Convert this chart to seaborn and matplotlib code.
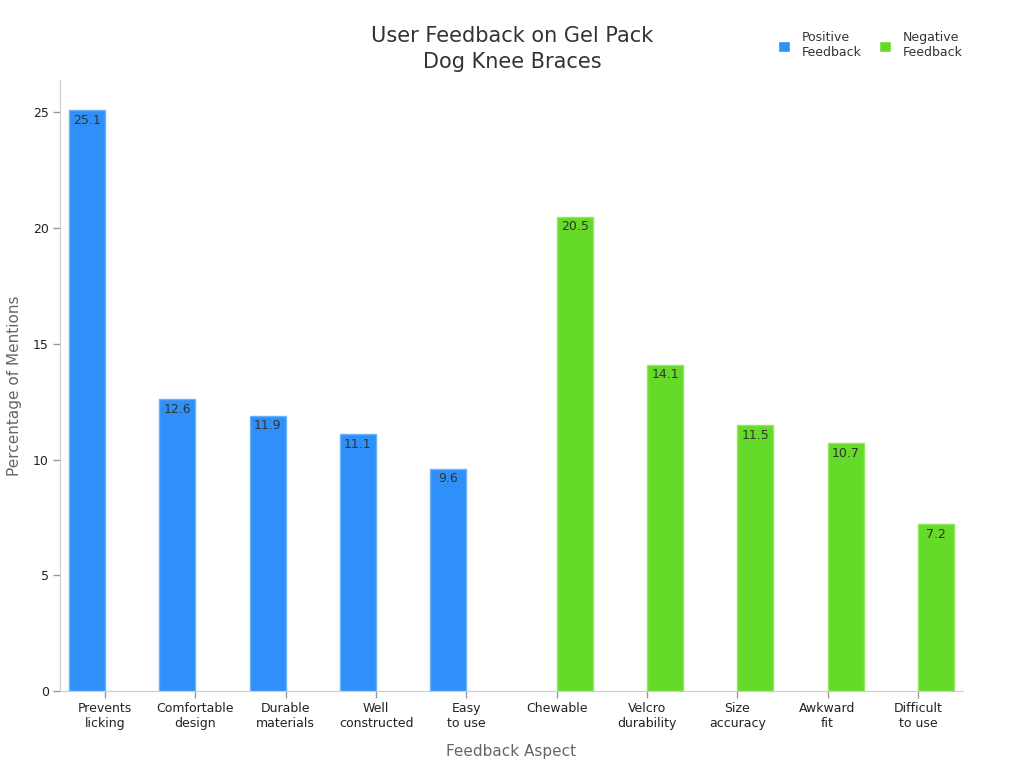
import matplotlib
matplotlib.use("Agg")
import matplotlib.pyplot as plt
import seaborn as sns
import pandas as pd

categories = ["Prevents\nlicking", "Comfortable\ndesign", "Durable\nmaterials", "Well\nconstructed", "Easy\nto use",
              "Chewable", "Velcro\ndurability", "Size\naccuracy", "Awkward\nfit", "Difficult\nto use"]
values = [25.1, 12.6, 11.9, 11.1, 9.6, 20.5, 14.1, 11.5, 10.7, 7.2]
groups = ["Positive\nFeedback"] * 5 + ["Negative\nFeedback"] * 5
palette = {"Positive\nFeedback": "#2E90F8", "Negative\nFeedback": "#66DA28"}
edges = {"Positive\nFeedback": "#6DB1F9", "Negative\nFeedback": "#93E565"}

df = pd.DataFrame({"Aspect": categories, "Value": values, "Group": groups})

sns.set_style("white")
plt.rcParams['font.family'] = ['DejaVu Sans']

fig = plt.figure(figsize=(10.24, 7.68), dpi=100)
ax = fig.add_axes([0.0586, 0.1003, 0.8818, 0.7955])

sns.barplot(data=df, x="Aspect", y="Value", hue="Group", palette=palette,
            order=categories, hue_order=list(palette.keys()), width=0.8,
            dodge=True, ax=ax, saturation=1, legend=True)

for cont, g in zip(ax.containers, palette.keys()):
    for p in cont.patches:
        p.set_edgecolor(edges[g])
        p.set_linewidth(1)
    labels = [f"{v:.1f}" if v == v and v > 0 else "" for v in cont.datavalues]
    ax.bar_label(cont, labels=labels, padding=-12, fontsize=9, color="#333333")

ax.set_xlim(-0.5, 9.5)
ax.set_ylim(0, 26.4)
ax.set_yticks([0, 5, 10, 15, 20, 25])
ax.tick_params(axis="both", which="major", bottom=True, left=True, labelsize=9,
               labelcolor="#222222", length=5, color="#999999", width=1)
ax.tick_params(axis="x", pad=3)
ax.tick_params(axis="y", pad=3)
for s in ["top", "right"]:
    ax.spines[s].set_visible(False)
for s in ["left", "bottom"]:
    ax.spines[s].set_color("#cccccc")
ax.set_xlabel("Feedback Aspect", fontsize=11, color="#666666", labelpad=10)
ax.set_ylabel("Percentage of Mentions", fontsize=11, color="#666666", labelpad=8)

fig.suptitle("User Feedback on Gel Pack\nDog Knee Braces", fontsize=15, color="#333333",
             x=0.5, y=0.966, linespacing=1.35)

handles, labs = ax.get_legend_handles_labels()
ax.legend(handles, labs, loc="upper right", bbox_to_anchor=(1.012, 1.098), ncol=2,
          frameon=False, fontsize=9, handlelength=1.0, handleheight=1.0,
          columnspacing=1.4, handletextpad=0.9, labelcolor="#333333")

fig.savefig("out.png", dpi=100)
